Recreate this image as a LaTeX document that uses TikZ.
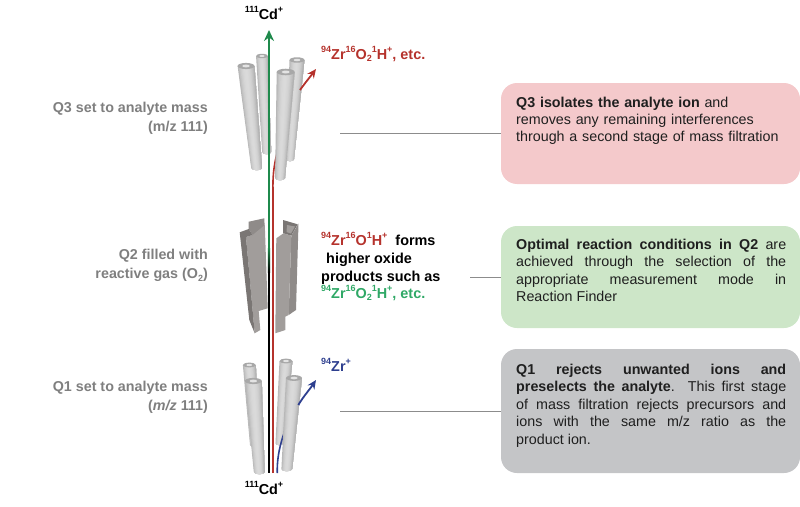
\documentclass[tikz,border=0pt]{standalone}
\usepackage{fontspec}
\setmainfont{Liberation Sans}
\usetikzlibrary{arrows.meta,calc}
\definecolor{ionred}{HTML}{B5322C}
\definecolor{iongreen}{HTML}{1F8A4C}
\definecolor{txtgreen}{HTML}{2FA866}
\definecolor{ionblue}{HTML}{2E3F8F}
\definecolor{labgray}{HTML}{7F7F7F}
\definecolor{boxred}{HTML}{F4C9CB}
\definecolor{boxgreen}{HTML}{CDE6C8}
\definecolor{boxgray}{HTML}{C4C5C7}
\definecolor{leader}{HTML}{8C8C8C}
\definecolor{vanelight}{HTML}{A19D9B}
\definecolor{vanemid}{HTML}{8F8B89}
\definecolor{vanedark}{HTML}{7A7674}
\newcommand{\upt}[1]{\raisebox{0.42em}{\fontsize{9}{9}\selectfont #1}}
\newcommand{\dnt}[1]{\raisebox{-0.2em}{\fontsize{9}{9}\selectfont #1}}
\newcommand{\rodshape}[6]{%
  \begin{scope}
  \clip ({#1-#3/2},#2) -- ({#4-#6/2},#5) .. controls ({#4-#6/2},{#5+3}) and ({#4+#6/2},{#5+3}) .. ({#4+#6/2},#5) -- ({#1+#3/2},#2) -- cycle;
  \foreach \i in {0,...,13}{%
    \pgfmathsetmacro\tt{\i/14}%
    \pgfmathsetmacro\cc{int(29+34*pow(abs(2*\tt-0.9),2))}%
    \fill[gray!\cc] ({#1-#3/2+\tt*#3},{#2-1}) -- ({#4-#6/2+\tt*#6},{#5+4}) -- ({#4+#6/2+1},{#5+4}) -- ({#1+#3/2+1},{#2-1}) -- cycle;
  }
  \end{scope}
  \fill[gray!68] (#1,#2) ellipse [x radius={#3/2}, y radius={#3/5.5}];
  \fill[gray!22] (#1,#2) ellipse [x radius={#3/4.5}, y radius={#3/12}];
}
\tikzset{
  x=1pt,y=-1pt,
  panel/.style={rounded corners=16pt,minimum width=299pt,inner sep=0pt,draw=none},
  panelnote/.style={anchor=north west,text width=270pt,inner sep=0pt,align=justify,font=\fontsize{14.3}{17.4}\selectfont,text=black!88},
  sidelabel/.style={anchor=east,inner sep=0pt,align=right,text=labgray,font=\bfseries\fontsize{14.3}{19}\selectfont},
  ionlabel/.style={inner sep=0pt,font=\bfseries\fontsize{14.4}{17.6}\selectfont},
  leaderline/.style={draw=leader,line width=0.8pt},
  beam/.style={line width=2.2pt},
  ionarrow/.style={line width=1.8pt,-{Stealth[length=9pt,width=8pt]}}
}
\begin{document}
\begin{tikzpicture}
\useasboundingbox (0,0) rectangle (800,506);
% panels
\node[panel,fill=boxred,minimum height=101pt] (p3) at (650.5,133.5) {};
\node[panel,fill=boxgreen,minimum height=102pt] (p2) at (650.5,277) {};
\node[panel,fill=boxgray,minimum height=124pt] (p1) at (650.5,411) {};
\node[panelnote,align=left] (t3) at (516,96.5) {\textbf{Q3 isolates the analyte ion} and\\removes any remaining interferences\\through a second stage of mass filtration};
\node[panelnote] (t2) at (516,239) {\textbf{Optimal reaction conditions in Q2} are\linebreak achieved through the selection of the\linebreak appropriate measurement mode in\linebreak Reaction Finder};
\node[panelnote] (t1) at (516,364) {\textbf{Q1 rejects unwanted ions and\linebreak preselects the analyte}. This first stage\linebreak of mass filtration rejects precursors and\linebreak ions with the same m/z ratio as the\linebreak product ion.};
% leaders
\coordinate (l3) at (340,133.5);
\coordinate (l2) at (470,277);
\coordinate (l1) at (340,411);
\draw[leaderline] (l3) -- (p3.west);
\draw[leaderline] (l2) -- (p2.west);
\draw[leaderline] (l1) -- (p1.west);
% side labels
\node[sidelabel] (s3) at (208,118) {Q3 set to analyte mass\\(m/z 111)};
\node[sidelabel] (s2) at (208,265) {Q2 filled with\\reactive gas (O\dnt{2})};
\node[sidelabel] (s1) at (208,397) {Q1 set to analyte mass\\(\textit{m/z} 111)};
% ion labels
\node[ionlabel,anchor=base] (cdtop) at (264,19) {\upt{111}Cd\upt{+}};
\node[ionlabel,anchor=base] (cdbot) at (264,494) {\upt{111}Cd\upt{+}};
\node[ionlabel,anchor=base west,text=ionred] (zrtop) at (321,59) {\upt{94}Zr\upt{16}O\dnt{2}\upt{1}H\upt{+}, etc.};
\node[ionlabel,anchor=base west,text=ionblue] (zrbot) at (321,371) {\upt{94}Zr\upt{+}};
\node[ionlabel,anchor=base west,text=ionred] (mid1) at (321,245) {\upt{94}Zr\upt{16}O\upt{1}H\upt{+}\textcolor{black}{\ \ forms}};
\node[ionlabel,anchor=base west] (mid2) at (326,263) {higher oxide};
\node[ionlabel,anchor=base west] (mid3) at (321,281) {products such as};
\node[ionlabel,anchor=base west,text=txtgreen] (mid4) at (321,298) {\upt{94}Zr\upt{16}O\dnt{2}\upt{1}H\upt{+}, etc.};
% Q3 rear rods
\rodshape{246}{66}{17}{256.7}{168}{11}
\rodshape{262}{56}{12}{266.7}{152}{9}
\rodshape{297}{60}{15}{290}{159}{8}
% Q1 rear rods
\rodshape{249.3}{365}{13}{255}{445}{10}
\rodshape{286}{361}{13}{279.3}{443}{8}
% Q2 vanes
\fill[vanemid] (248.7,221.7) -- (264.3,218.3) -- (265,235) -- (252.7,235) -- (248.7,229) -- cycle;
\fill[vanelight] (246,237) -- (252.7,235) -- (264.8,225) -- (267.7,308.3) -- (258.7,311) -- (260.3,330) -- (254.7,333.3) -- cycle;
\fill[vanedark] (239.7,232.3) -- (248.7,229) -- (252.7,235) -- (246,237) -- (254.7,333.3) -- (249.3,320) -- cycle;
\fill[vanedark] (283,220) -- (297.7,224.3) -- (291.3,235.7) -- (283,233.3) -- cycle;
\fill[vanelight] (287,225) -- (295,226.5) -- (291,233.5) -- (286.5,232) -- cycle;
\fill[vanemid] (291.3,235.7) -- (298.5,223.5) -- (296,310) -- (288.7,315) -- cycle;
\fill[vanelight] (276.3,238.3) -- (283.5,233.3) -- (291.3,235.7) -- (288.7,315) -- (285.3,316.7) -- (285.3,330) -- (275.3,333.3) -- cycle;
% beams
\coordinate (gtip) at (269,30);
\coordinate (gend) at (269,248);
\coordinate (kstart) at (269,272);
\coordinate (kend) at (269,473);
\coordinate (rstart) at (273,473);
\coordinate (rend) at (273,190);
\draw[iongreen,beam,-{Stealth[length=11pt,width=10pt]}] (gend) -- (gtip);
\shade[top color=iongreen,bottom color=black] ($(gend)+(-1.1,0)$) rectangle ($(kstart)+(1.1,0)$);
\draw[black,beam] (kstart) -- (kend);
\draw[ionred,beam] (rstart) -- (rend);
\draw[ionred,line width=1.6pt] (rend) .. controls (272.5,172) and (275,160) .. (278,150);
% blue & red deflected ions behind the front rods
\coordinate (btail) at (277.3,473);
\coordinate (btip) at (316,380);
\coordinate (rtail) at (300,90);
\coordinate (rtip) at (316,69);
\draw[ionblue,line width=1.6pt] (btail) .. controls (276.5,450) and (285,425) .. (298.3,405);
% Q3 front rod
\rodshape{285.7}{72}{18}{280}{178}{10}
% Q1 front rods
\rodshape{253.3}{381}{17}{259.3}{472}{11}
\rodshape{294}{378}{16}{286.7}{469}{11}
% deflected tips
\draw[ionred,ionarrow] (rtail) .. controls (305,83) and (310,77) .. (rtip);
\draw[ionblue,ionarrow] (298.3,405) .. controls (303,397) and (310,389) .. (btip);
\end{tikzpicture}
\end{document}
